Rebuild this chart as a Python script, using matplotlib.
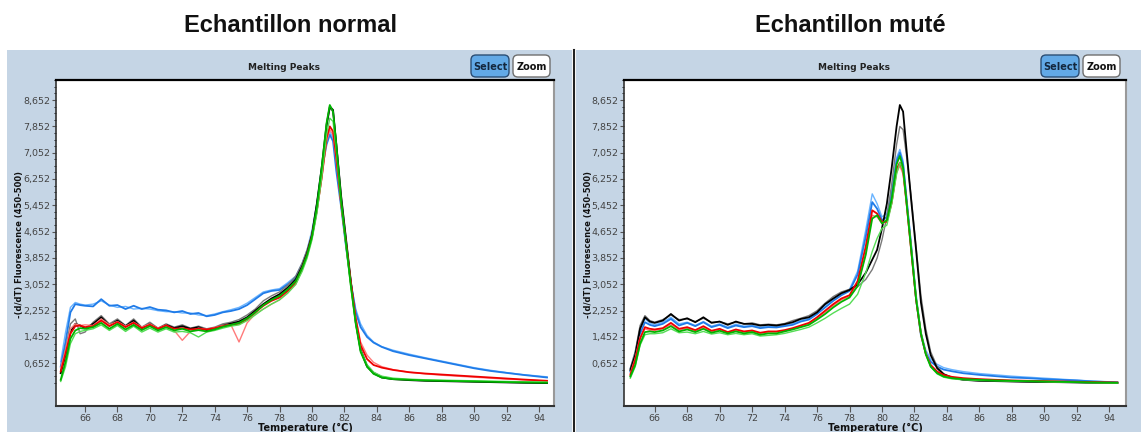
import matplotlib.pyplot as plt
from matplotlib.patches import Rectangle, FancyBboxPatch
from matplotlib.ticker import FixedLocator

# temperature grid shared by every curve (°C)
temps = [64.5, 64.8, 65.1, 65.4, 65.7, 66.0,
         66.5, 67.0, 67.5, 68.0, 68.5, 69.0, 69.5, 70.0, 70.5, 71.0,
         71.5, 72.0, 72.5, 73.0, 73.5, 74.0, 74.5, 75.0, 75.5, 76.0,
         76.5, 77.0, 77.5, 78.0, 78.5, 79.0,
         79.4, 79.7, 80.0, 80.3, 80.6, 80.9, 81.1, 81.3, 81.5, 81.8,
         82.1, 82.4, 82.7, 83.0, 83.4, 83.8, 84.3,
         85, 86, 87, 88, 89, 90, 91, 92, 93, 94.5]

# --- Echantillon normal ---
norm_blue_1 = [0.55, 1.3, 2.2, 2.45, 2.42, 2.4,
               2.38, 2.6, 2.4, 2.42, 2.3, 2.4, 2.3, 2.36, 2.28, 2.26,
               2.2, 2.24, 2.15, 2.18, 2.08, 2.12, 2.2, 2.24, 2.3, 2.42,
               2.6, 2.78, 2.85, 2.88, 3.05, 3.25,
               3.65, 4.0, 4.5, 5.3, 6.5, 7.3, 7.6, 7.4, 6.5, 5.4,
               4.2, 3.1, 2.2, 1.75, 1.45, 1.28, 1.15,
               1.02, 0.9, 0.8, 0.7, 0.6, 0.5, 0.42, 0.36, 0.3, 0.22]
norm_blue_2 = [0.7, 1.6, 2.35, 2.5, 2.45, 2.42,
               2.45, 2.55, 2.42, 2.35, 2.38, 2.3, 2.32, 2.3, 2.25, 2.22,
               2.22, 2.18, 2.18, 2.12, 2.1, 2.15, 2.22, 2.28, 2.35, 2.48,
               2.65, 2.82, 2.88, 2.92, 3.1, 3.3,
               3.7, 4.1, 4.7, 5.5, 6.6, 7.4, 7.7, 7.5, 6.7, 5.5,
               4.2, 3.1, 2.3, 1.85, 1.5, 1.3, 1.16,
               1.05, 0.93, 0.82, 0.72, 0.62, 0.52, 0.44, 0.37, 0.31, 0.24]
norm_black_1 = [0.35, 0.9, 1.6, 1.85, 1.8, 1.72,
                1.85, 2.05, 1.8, 1.95, 1.78, 1.95, 1.72, 1.85, 1.7, 1.82,
                1.72, 1.78, 1.7, 1.75, 1.66, 1.72, 1.8, 1.86, 1.92, 2.05,
                2.25, 2.45, 2.62, 2.75, 2.95, 3.2,
                3.6, 4.0, 4.55, 5.5, 6.6, 7.9, 8.45, 8.35, 7.3, 5.7,
                4.4, 3.1, 1.9, 1.05, 0.55, 0.35, 0.22,
                0.17, 0.14, 0.12, 0.11, 0.1, 0.09, 0.08, 0.07, 0.06, 0.05]
norm_black_2 = [0.45, 1.1, 1.85, 2.0, 1.55, 1.6,
                1.9, 2.1, 1.85, 2.0, 1.8, 2.0, 1.75, 1.9, 1.72, 1.85,
                1.75, 1.82, 1.72, 1.78, 1.7, 1.75, 1.85, 1.9, 1.98, 2.12,
                2.3, 2.55, 2.7, 2.82, 3.02, 3.3,
                3.7, 4.1, 4.6, 5.5, 6.5, 7.8, 8.4, 8.3, 7.4, 5.8,
                4.5, 3.2, 2.0, 1.1, 0.6, 0.38, 0.25,
                0.18, 0.15, 0.13, 0.12, 0.11, 0.1, 0.09, 0.08, 0.07, 0.06]
norm_red_1 = [0.4, 0.95, 1.55, 1.78, 1.8, 1.75,
              1.78, 1.95, 1.78, 1.9, 1.75, 1.88, 1.72, 1.82, 1.7, 1.8,
              1.7, 1.72, 1.68, 1.7, 1.68, 1.72, 1.78, 1.82, 1.85, 1.98,
              2.2, 2.4, 2.55, 2.65, 2.85, 3.1,
              3.55, 3.95, 4.5, 5.3, 6.3, 7.5, 7.85, 7.7, 6.9, 5.5,
              4.3, 3.1, 2.0, 1.2, 0.78, 0.6, 0.52,
              0.45, 0.38, 0.34, 0.31, 0.28, 0.25, 0.22, 0.19, 0.16, 0.12]
norm_red_2 = [0.5, 1.05, 1.7, 1.85, 1.8, 1.82,
              1.8, 2.0, 1.82, 1.92, 1.78, 1.9, 1.75, 1.85, 1.72, 1.82,
              1.65, 1.35, 1.62, 1.72, 1.68, 1.74, 1.8, 1.82, 1.3, 1.88,
              2.15, 2.3, 2.45, 2.58, 2.8, 3.05,
              3.5, 3.9, 4.45, 5.25, 6.25, 7.4, 7.75, 7.6, 6.8, 5.45,
              4.25, 3.05, 2.05, 1.3, 0.9, 0.68, 0.55,
              0.46, 0.38, 0.33, 0.29, 0.26, 0.23, 0.2, 0.17, 0.15, 0.11]
norm_green_1 = [0.15, 0.7, 1.4, 1.65, 1.72, 1.7,
                1.75, 1.88, 1.7, 1.85, 1.68, 1.82, 1.66, 1.78, 1.65, 1.75,
                1.65, 1.7, 1.62, 1.66, 1.62, 1.68, 1.76, 1.82, 1.88, 2.02,
                2.2, 2.42, 2.58, 2.7, 2.9, 3.15,
                3.55, 3.95, 4.5, 5.4, 6.6, 7.95, 8.5, 8.3, 7.3, 5.6,
                4.3, 3.0, 1.85, 1.0, 0.55, 0.33, 0.22,
                0.17, 0.15, 0.13, 0.12, 0.11, 0.1, 0.09, 0.08, 0.07, 0.06]
norm_green_2 = [0.1, 0.55, 1.25, 1.55, 1.62, 1.65,
                1.7, 1.82, 1.65, 1.8, 1.62, 1.78, 1.6, 1.72, 1.6, 1.7,
                1.6, 1.62, 1.58, 1.45, 1.6, 1.65, 1.72, 1.78, 1.82, 1.95,
                2.12, 2.3, 2.45, 2.58, 2.78, 3.05,
                3.45, 3.85, 4.4, 5.2, 6.3, 7.6, 8.1, 8.0, 7.1, 5.5,
                4.2, 2.95, 1.85, 1.05, 0.6, 0.38, 0.26,
                0.2, 0.17, 0.15, 0.14, 0.13, 0.12, 0.11, 0.1, 0.09, 0.08]

# --- Echantillon muté ---
mut_black_1 = [0.45, 0.9, 1.7, 2.05, 1.92, 1.88,
               1.95, 2.15, 1.95, 2.02, 1.9, 2.05, 1.88, 1.92, 1.82, 1.92,
               1.85, 1.85, 1.8, 1.82, 1.8, 1.84, 1.9, 2.0, 2.05, 2.2,
               2.45, 2.62, 2.78, 2.88, 3.05, 3.4,
               3.8, 4.1, 4.75, 5.5, 6.6, 7.85, 8.5, 8.3, 7.2, 5.6,
               4.1, 2.5, 1.55, 0.9, 0.5, 0.32, 0.22,
               0.15, 0.12, 0.11, 0.1, 0.09, 0.08, 0.08, 0.07, 0.06, 0.05]
mut_black_2 = [0.5, 1.0, 1.8, 2.1, 1.95, 1.9,
               1.98, 2.12, 1.98, 2.0, 1.92, 2.02, 1.9, 1.92, 1.85, 1.9,
               1.85, 1.88, 1.82, 1.84, 1.82, 1.86, 1.95, 2.02, 2.1, 2.25,
               2.48, 2.68, 2.82, 2.9, 2.98, 3.2,
               3.5, 3.85, 4.4, 5.1, 6.1, 7.3, 7.85, 7.75, 7.0, 5.7,
               4.2, 2.7, 1.7, 1.0, 0.55, 0.33, 0.21,
               0.15, 0.12, 0.11, 0.1, 0.09, 0.08, 0.07, 0.07, 0.06, 0.05]
mut_blue_1 = [0.4, 0.85, 1.55, 1.9, 1.82, 1.78,
              1.85, 2.0, 1.8, 1.88, 1.78, 1.9, 1.75, 1.82, 1.72, 1.8,
              1.75, 1.78, 1.72, 1.75, 1.74, 1.78, 1.82, 1.92, 1.98, 2.15,
              2.35, 2.55, 2.72, 2.85, 3.35, 4.5,
              5.55, 5.35, 5.0, 5.1, 5.8, 6.8, 7.05, 6.7, 5.7, 4.2,
              2.6, 1.5, 0.95, 0.7, 0.55, 0.46, 0.41,
              0.35, 0.3, 0.26, 0.22, 0.2, 0.17, 0.15, 0.13, 0.1, 0.07]
mut_blue_2 = [0.5, 1.0, 1.7, 2.0, 1.88, 1.82,
              1.9, 2.05, 1.85, 1.9, 1.8, 1.92, 1.78, 1.85, 1.75, 1.84,
              1.78, 1.8, 1.75, 1.78, 1.76, 1.8, 1.86, 1.95, 2.02, 2.2,
              2.42, 2.6, 2.78, 2.9, 3.45, 4.7,
              5.8, 5.5, 5.1, 5.2, 5.95, 6.9, 7.15, 6.8, 5.8, 4.3,
              2.75, 1.6, 1.05, 0.78, 0.62, 0.52, 0.46,
              0.4, 0.34, 0.3, 0.26, 0.23, 0.2, 0.17, 0.14, 0.11, 0.08]
mut_red_1 = [0.3, 0.75, 1.4, 1.75, 1.7, 1.68,
             1.72, 1.88, 1.7, 1.75, 1.66, 1.78, 1.64, 1.7, 1.6, 1.68,
             1.62, 1.65, 1.58, 1.62, 1.62, 1.66, 1.72, 1.8, 1.88, 2.05,
             2.25, 2.45, 2.62, 2.72, 3.15, 4.2,
             5.3, 5.2, 4.95, 4.95, 5.55, 6.55, 6.75, 6.5, 5.6, 4.1,
             2.6, 1.55, 0.95, 0.6, 0.4, 0.3, 0.24,
             0.2, 0.17, 0.15, 0.13, 0.12, 0.11, 0.1, 0.09, 0.08, 0.07]
mut_red_2 = [0.35, 0.8, 1.45, 1.7, 1.65, 1.65,
             1.7, 1.82, 1.66, 1.72, 1.62, 1.74, 1.6, 1.66, 1.58, 1.64,
             1.6, 1.62, 1.56, 1.6, 1.6, 1.64, 1.7, 1.78, 1.85, 2.0,
             2.2, 2.4, 2.58, 2.68, 3.0, 4.0,
             5.15, 5.1, 4.9, 4.95, 5.5, 6.45, 6.65, 6.4, 5.5, 4.0,
             2.55, 1.5, 0.92, 0.58, 0.38, 0.28, 0.22,
             0.18, 0.16, 0.14, 0.12, 0.11, 0.1, 0.09, 0.08, 0.07, 0.06]
mut_green_1 = [0.25, 0.6, 1.25, 1.6, 1.62, 1.6,
               1.65, 1.78, 1.62, 1.68, 1.6, 1.7, 1.58, 1.64, 1.56, 1.62,
               1.56, 1.6, 1.52, 1.56, 1.56, 1.62, 1.68, 1.75, 1.82, 1.98,
               2.15, 2.35, 2.52, 2.65, 3.0, 3.95,
               5.05, 5.15, 4.9, 5.0, 5.65, 6.7, 6.95, 6.6, 5.6, 4.1,
               2.6, 1.55, 0.92, 0.55, 0.35, 0.25, 0.2,
               0.17, 0.15, 0.13, 0.12, 0.11, 0.1, 0.09, 0.08, 0.07, 0.06]
mut_green_2 = [0.2, 0.55, 1.2, 1.52, 1.55, 1.55,
               1.58, 1.7, 1.58, 1.6, 1.55, 1.62, 1.54, 1.58, 1.52, 1.56,
               1.52, 1.55, 1.48, 1.5, 1.52, 1.56, 1.62, 1.68, 1.75, 1.88,
               2.02, 2.18, 2.32, 2.45, 2.75, 3.4,
               4.05, 4.45, 4.75, 4.85, 5.5, 6.4, 6.75, 6.5, 5.6, 4.2,
               2.7, 1.6, 0.95, 0.55, 0.33, 0.23, 0.18,
               0.15, 0.13, 0.12, 0.11, 0.1, 0.09, 0.08, 0.07, 0.06, 0.05]

y_ticks = [0.652, 1.452, 2.252, 3.052, 3.852, 4.652, 5.452, 6.252, 7.052, 7.852, 8.652]
x_ticks = [66, 68, 70, 72, 74, 76, 78, 80, 82, 84, 86, 88, 90, 92, 94]

# colour per curve: (colour, linewidth)
styles = {
    'blue_2': ('#6ab4ff', 1.0), 'blue_1': ('#1f7be8', 1.3),
    'black_2': ('#7a7a7a', 1.0), 'black_1': ('#000000', 1.3),
    'red_2': ('#ff7a7a', 1.0), 'red_1': ('#ee0000', 1.3),
    'green_2': ('#55dd55', 1.0), 'green_1': ('#00b400', 1.3),
}
order = ['blue_2', 'blue_1', 'black_2', 'black_1', 'red_2', 'red_1', 'green_2', 'green_1']

normal = {'blue_1': norm_blue_1, 'blue_2': norm_blue_2, 'black_1': norm_black_1,
          'black_2': norm_black_2, 'red_1': norm_red_1, 'red_2': norm_red_2,
          'green_1': norm_green_1, 'green_2': norm_green_2}
mute = {'blue_1': mut_blue_1, 'blue_2': mut_blue_2, 'black_1': mut_black_1,
        'black_2': mut_black_2, 'red_1': mut_red_1, 'red_2': mut_red_2,
        'green_1': mut_green_1, 'green_2': mut_green_2}

W, H = 1141, 432
PANEL_BG = '#c5d5e5'

fig = plt.figure(figsize=(W / 100, H / 100), dpi=100)
fig.patch.set_facecolor('white')

# background layer in pixel coordinates
bg = fig.add_axes([0, 0, 1, 1], zorder=0)
bg.set_xlim(0, W)
bg.set_ylim(H, 0)
bg.axis('off')


def draw_panel(x0, x1, title, title_x, header_x, btn_x):
    bg.add_patch(Rectangle((x0, 50), x1 - x0, H - 50, facecolor=PANEL_BG, edgecolor='none'))
    bg.text(title_x, 26, title, ha='center', va='center', fontsize=17,
            fontweight='bold', family='Liberation Sans', color='#111111')
    bg.text(header_x, 68, 'Melting Peaks', ha='center', va='center', fontsize=6.5,
            fontweight='bold', family='DejaVu Sans', color='#222222')
    # Select / Zoom buttons
    bg.add_patch(FancyBboxPatch((btn_x, 55), 38, 22, boxstyle='round,pad=0,rounding_size=5',
                                facecolor='#62a9e6', edgecolor='#2b4e74', linewidth=1.0))
    bg.text(btn_x + 19, 66.5, 'Select', ha='center', va='center', fontsize=7,
            fontweight='bold', family='DejaVu Sans', color='#14283f')
    bg.add_patch(FancyBboxPatch((btn_x + 42, 55), 37, 22, boxstyle='round,pad=0,rounding_size=5',
                                facecolor='white', edgecolor='#6f6f6f', linewidth=1.0))
    bg.text(btn_x + 60.5, 66.5, 'Zoom', ha='center', va='center', fontsize=7,
            fontweight='bold', family='DejaVu Sans', color='#111111')


draw_panel(7, 572, 'Echantillon normal', 291, 284, 471)
draw_panel(576, W, 'Echantillon muté', 850, 854, 1041)
bg.plot([574, 574], [50, H], color='#222222', linewidth=1.5)


def make_axes(x0, x1, xlim, series):
    ax = fig.add_axes([x0 / W, (H - 406) / H, (x1 - x0) / W, 326 / H], zorder=1)
    ax.set_facecolor('white')
    for key in order:
        color, lw = styles[key]
        ax.plot(temps, series[key], color=color, linewidth=lw)
    ax.set_xlim(*xlim)
    ax.set_ylim(-0.646, 9.26)
    ax.set_xticks(x_ticks)
    ax.set_xticklabels([str(t) for t in x_ticks])
    ax.set_yticks(y_ticks)
    ax.set_yticklabels([f'{v:.3f}'.replace('.', ',') for v in y_ticks])
    ax.yaxis.set_minor_locator(FixedLocator([0.652 + 0.2 * i for i in range(-3, 44)]))
    ax.tick_params(axis='both', direction='out', colors='#555555', labelsize=6.8,
                   labelcolor='#444444', width=0.8)
    ax.tick_params(axis='y', which='major', length=3, pad=1)
    ax.tick_params(axis='y', which='minor', length=1.5, width=0.6)
    ax.tick_params(axis='x', which='major', length=4, pad=2)
    for lab in ax.get_xticklabels() + ax.get_yticklabels():
        lab.set_family('DejaVu Sans')
    ax.spines['top'].set_color('#000000')
    ax.spines['top'].set_linewidth(1.6)
    ax.spines['left'].set_color('#333333')
    ax.spines['left'].set_linewidth(1.2)
    ax.spines['bottom'].set_color('#333333')
    ax.spines['bottom'].set_linewidth(1.5)
    ax.spines['right'].set_color('#999999')
    ax.spines['right'].set_linewidth(1.5)
    return ax


make_axes(56, 554, (64.21, 94.93), normal)
make_axes(624, 1126, (64.11, 95.03), mute)

# axis titles (bottom one is cut by the image edge like the original)
for cx, ylab_x in [(305, 20), (875, 588)]:
    bg.text(cx, 423, 'Temperature (°C)', ha='center', va='top', fontsize=7,
            fontweight='bold', family='DejaVu Sans', color='#111111')
    bg.text(ylab_x, 244, '-(d/dT) Fluorescence (450-500)', ha='center', va='center',
            rotation=90, fontsize=6, fontweight='bold', family='DejaVu Sans', color='#111111')

fig.savefig('out.png', dpi=100)
